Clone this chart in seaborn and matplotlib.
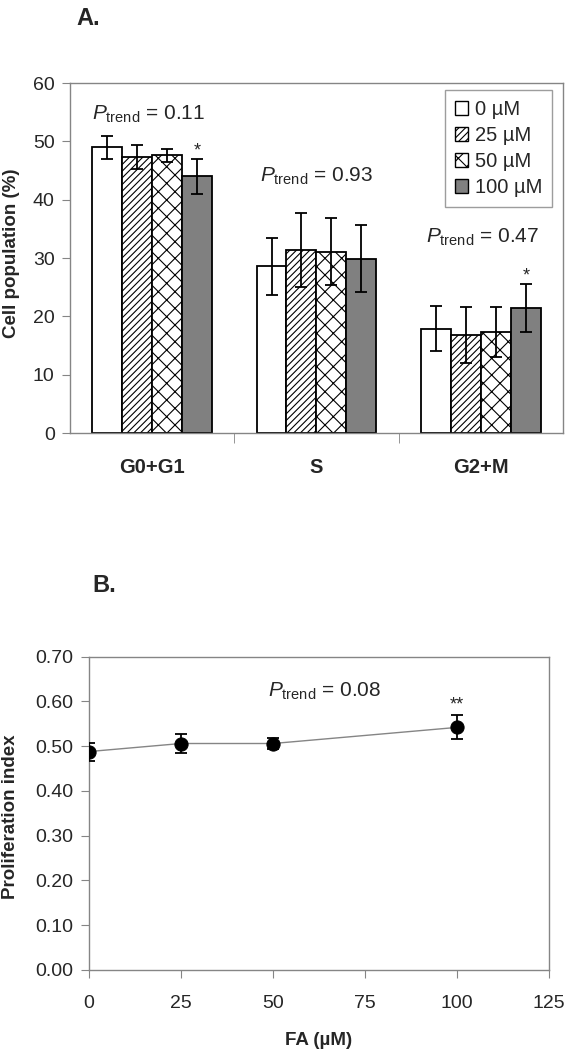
import numpy as np
import pandas as pd
import matplotlib
matplotlib.use('Agg')
import matplotlib.pyplot as plt
from matplotlib.patches import Patch
import seaborn as sns

# ---- data ----
phases = ['G0+G1', 'S', 'G2+M']
doses = ['0 µM', '25 µM', '50 µM', '100 µM']

cell_0uM = [49.0, 28.6, 17.9]
cell_25uM = [47.3, 31.4, 16.8]
cell_50uM = [47.6, 31.1, 17.3]
cell_100uM = [44.0, 29.9, 21.4]

sd_0uM = [2.0, 4.9, 3.9]
sd_25uM = [2.0, 6.4, 4.8]
sd_50uM = [1.1, 5.8, 4.3]
sd_100uM = [3.0, 5.7, 4.1]

ptrend_a = ['0.11', '0.93', '0.47']

fa_um = [0, 25, 50, 100]
prolif = [0.488, 0.506, 0.506, 0.542]
prolif_err = [0.020, 0.022, 0.013, 0.027]
ptrend_b = '0.08'

sns.set_style('ticks')
plt.rcParams['font.family'] = ['Liberation Sans', 'DejaVu Sans']
plt.rcParams['mathtext.fontset'] = 'custom'
plt.rcParams['mathtext.rm'] = 'Liberation Sans'
plt.rcParams['mathtext.it'] = 'Liberation Sans:italic'
plt.rcParams['hatch.linewidth'] = 0.8

grey = '#858585'

df = pd.DataFrame({
    'phase': phases * 4,
    'dose': [d for d in doses for _ in phases],
    'value': cell_0uM + cell_25uM + cell_50uM + cell_100uM,
    'sd': sd_0uM + sd_25uM + sd_50uM + sd_100uM,
})

fig = plt.figure(figsize=(5.68, 10.5), dpi=100)
axA = fig.add_axes([0.1232, 0.5876, 0.868, 0.3333])
axB = fig.add_axes([0.1567, 0.0762, 0.810, 0.2984])

# ---- panel A ----
fills = ['white', 'white', 'white', '#808080']
hatches = ['', '/////', 'xx', '']
sns.barplot(data=df, x='phase', y='value', hue='dose', palette=fills,
            edgecolor='black', linewidth=1.3, width=0.73, gap=0,
            errorbar=None, legend=False, ax=axA)

bar_conts = list(axA.containers)
for i, cont in enumerate(bar_conts):
    sub = df[df['dose'] == doses[i]]
    xs = [p.get_x() + p.get_width() / 2 for p in cont.patches]
    for p in cont.patches:
        p.set_hatch(hatches[i])
    axA.errorbar(xs, sub['value'], yerr=sub['sd'], fmt='none', ecolor='black',
                 elinewidth=1.3, capsize=4.5, capthick=1.3, zorder=5)

axA.set_xlim(-0.5, 2.5)
axA.set_ylim(0, 60)
axA.set_yticks(np.arange(0, 61, 10))
axA.set_xticks([0.5, 1.5], minor=True)
axA.tick_params(axis='x', which='major', length=0, pad=18, labelsize=14.5)
axA.tick_params(axis='x', which='minor', length=7, color=grey, direction='out')
axA.tick_params(axis='y', length=6, color=grey, pad=5, labelsize=14)
for lab in axA.get_xticklabels():
    lab.set_fontweight('bold')
axA.set_xlabel('')
axA.set_ylabel('Cell population (%)', fontsize=13.5, fontweight='bold')
axA.yaxis.set_label_coords(-0.101, 0.515)

for x, y, p in zip([-0.02, 1.0, 2.01], [53.7, 43.1, 32.6], ptrend_a):
    axA.text(x, y, r'$P_{\mathrm{trend}}$ = ' + p, ha='center', va='baseline', fontsize=15)
last = bar_conts[3].patches
for idx, ystar in [(0, 48.3), (2, 27.0)]:
    p = last[idx]
    axA.text(p.get_x() + p.get_width() / 2, ystar, '*', ha='center', va='center', fontsize=13)

handles = [Patch(facecolor=fills[i], edgecolor='black', hatch=hatches[i], linewidth=1.0)
           for i in range(4)]
leg = axA.legend(handles, doses, loc='upper right', bbox_to_anchor=(0.978, 0.98),
                 fontsize=14.5, frameon=True, fancybox=False, edgecolor=grey,
                 handlelength=0.65, handleheight=0.65, handletextpad=0.35,
                 labelspacing=0.35, borderpad=0.5, borderaxespad=0)
leg.get_frame().set_linewidth(1.0)

# ---- panel B ----
dfb = pd.DataFrame({'fa': fa_um, 'prolif': prolif, 'err': prolif_err})
sns.lineplot(data=dfb, x='fa', y='prolif', color=grey, linewidth=1.0, ax=axB, zorder=2)
sns.scatterplot(data=dfb, x='fa', y='prolif', color='black', s=90, edgecolor='black',
                ax=axB, zorder=4)
axB.errorbar(dfb['fa'], dfb['prolif'], yerr=dfb['err'], fmt='none', ecolor='black',
             elinewidth=1.3, capsize=4.5, capthick=1.3, zorder=3)
axB.set_xlim(0, 125)
axB.set_ylim(0, 0.70)
axB.set_xticks(np.arange(0, 126, 25))
axB.set_yticks(np.arange(0, 0.71, 0.1))
axB.set_yticklabels([f'{v:.2f}' for v in np.arange(0, 0.71, 0.1)])
axB.tick_params(axis='x', length=6, color=grey, pad=12, labelsize=14)
axB.tick_params(axis='y', length=6, color=grey, pad=5, labelsize=14)
axB.set_xlabel('FA (µM)', fontsize=13.5, fontweight='bold')
axB.xaxis.set_label_coords(0.5, -0.198)
axB.set_ylabel('Proliferation index', fontsize=13.5, fontweight='bold')
axB.yaxis.set_label_coords(-0.152, 0.49)
axB.text(64, 0.611, r'$P_{\mathrm{trend}}$ = ' + ptrend_b, ha='center', va='baseline', fontsize=15)
axB.text(100, 0.593, '**', ha='center', va='center', fontsize=13)

for ax in (axA, axB):
    for s in ax.spines.values():
        s.set_visible(True)
        s.set_color(grey)
        s.set_linewidth(1.0)

fig.text(0.135, 0.982, 'A.', fontsize=17, fontweight='bold', va='center')
fig.text(0.162, 0.442, 'B.', fontsize=17, fontweight='bold', va='center')

fig.savefig('out.png', dpi=100)
